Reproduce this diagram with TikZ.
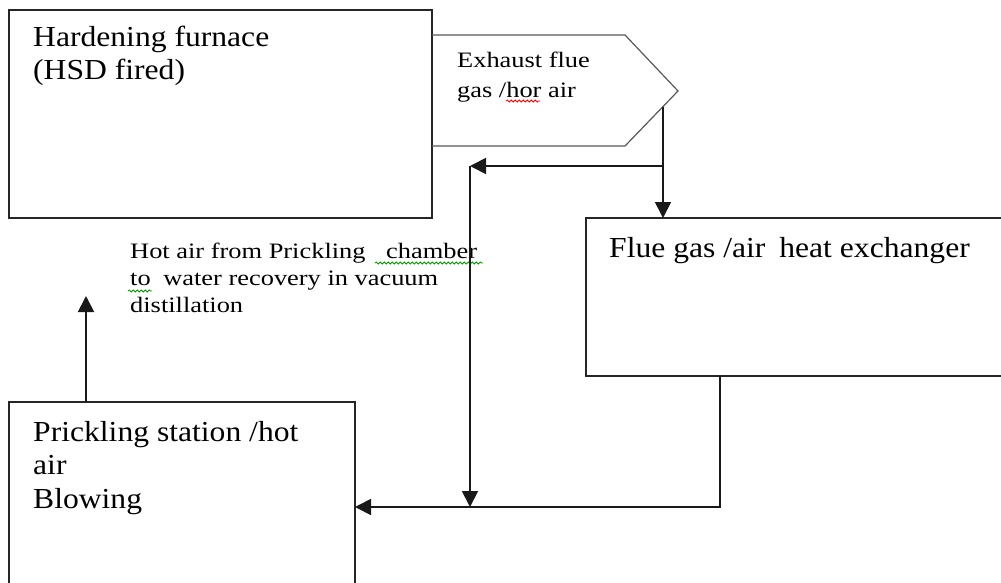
\documentclass[tikz,border=0pt]{standalone}
\usepackage{fontspec}
\setmainfont{Liberation Serif}
\newfontfamily\bigf{Liberation Serif}[FakeStretch=1.09]
\newfontfamily\smallf{Liberation Serif}[FakeStretch=1.2]
\usetikzlibrary{arrows.meta,decorations.pathmorphing}
\begin{document}
\begin{tikzpicture}[x=1pt,y=-1pt,
  box/.style={draw=black!85, line width=1.5pt, rectangle, inner sep=0pt, outer sep=0pt, anchor=north west},
  pent/.style={draw=black!65, line width=1.2pt},
  conn/.style={draw=black!90, line width=1.8pt, -{Triangle[width=16pt,length=16pt]}},
  bigtxt/.style={font=\bigf\fontsize{29}{33.5}\selectfont, align=left, inner sep=0pt, anchor=base west},
  smalltxt/.style={font=\smallf\fontsize{22}{30}\selectfont, align=left, inner sep=0pt, anchor=base west},
  hottxt/.style={font=\smallf\fontsize{22}{27}\selectfont, align=left, inner sep=0pt, anchor=base west},
  wavy/.style={line width=0.8pt, decorate, decoration={snake, amplitude=1.1pt, segment length=4pt}}]
\useasboundingbox[fill=white] (0,0) rectangle (1001,583);
% boxes
\node[box, minimum width=423pt, minimum height=208pt] (furnace) at (9,10) {};
\node[box, minimum width=420pt, minimum height=158pt] (flue) at (586,218) {};
\node[box, minimum width=346pt, minimum height=192pt] (prick) at (9,402) {};
% exhaust pentagon
\coordinate (exTL) at (432,35);
\coordinate (exTip) at (678,91);
\coordinate (exBL) at (432,146);
\draw[pent] (exTL) -- (625,35) -- (exTip) -- (625,146) -- (exBL);
% texts (anchor = baseline of the last line)
\node[bigtxt] (furnaceT) at (33,80) {Hardening furnace\\(HSD fired)};
\node[smalltxt] (exT) at (457,98) {Exhaust flue\\gas /hor air};
\node[hottxt] (hotT) at (130,312) {Hot air from Prickling\hspace{14pt} chamber\\to\hspace{6pt} water recovery in vacuum\\distillation};
\node[bigtxt] (flueT) at (609,257) {Flue gas /air\hspace{6pt} heat exchanger};
\node[bigtxt] (prickT) at (33,508) {Prickling station /hot\\air\\Blowing};
% spell-check marks
\draw[wavy, red] (506,101) -- (540,101);
\draw[wavy, green!60!black] (375,263) -- (483,263);
\draw[wavy, green!60!black] (128,291) -- (152,291);
% connectors
\coordinate (exOut) at (663,107);
\coordinate (split) at (663,166);
\coordinate (corner) at (470,166);
\coordinate (join) at (470,507);
\coordinate (flueOut) at (720,376);
\coordinate (upEnd) at (86,296);
\draw[conn] (exOut) -- (flue.north -| exOut);
\draw[conn] (split) -- (corner);
\draw[conn] (corner) -- (join);
\draw[conn] (flueOut) |- (prick.east |- join);
\draw[conn] (prick.north -| upEnd) -- (upEnd);
\end{tikzpicture}
\end{document}
